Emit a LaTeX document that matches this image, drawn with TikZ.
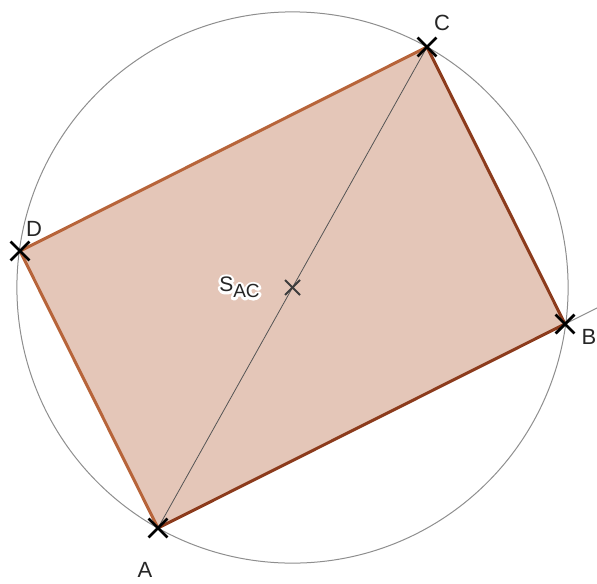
\documentclass[tikz,border=0pt]{standalone}
\usepackage{fontspec}
\setmainfont{Liberation Sans}
\usetikzlibrary{calc,positioning,shapes.misc}
\definecolor{rectfill}{HTML}{E4C6B8}
\definecolor{edgelight}{HTML}{B7643A}
\definecolor{edgedark}{HTML}{8C3B1C}
\definecolor{circgray}{HTML}{8E8E8E}
\definecolor{diaggray}{HTML}{555555}
\definecolor{markgray}{HTML}{3C3C3C}
% white outline behind a text
\newcommand\halotext[1]{\leavevmode
  \rlap{\special{pdf:code q 1 Tr 2.6 w 1 j 1 1 1 RG}#1\special{pdf:code Q}}#1}
\tikzset{
  vertex/.style={
    cross out,draw=black,line width=1.4pt,
    minimum size=8pt,inner sep=0pt
  },
  centre/.style={
    cross out,draw=markgray,line width=1pt,
    minimum size=6.5pt,inner sep=0pt
  },
  lbl/.style={font=\fontsize{11}{13}\selectfont,text=black!85,inner sep=0pt},
  side/.style={line width=1.5pt,line cap=round},
  thin line/.style={line width=.5pt}
}

\begin{document}
\begin{tikzpicture}[x=0.5pt,y=-0.5pt]
\useasboundingbox (0,0) rectangle (597,583);

% corners of the rectangle
\coordinate (A) at (158,528);
\coordinate (B) at (565,324);
\coordinate (C) at (427,47);
\coordinate (D) at (20,251);
\coordinate (S) at ($(A)!0.5!(C)$);
\coordinate (E) at ($(A)!1.085!(B)$);

% circumcircle
\draw[circgray,thin line] (S) circle[radius=275.6];

% rectangle
\fill[rectfill] (A)--(B)--(C)--(D)--cycle;
\draw[diaggray,line width=.4pt] (A)--(C);
\draw[circgray,thin line] (B)--(E);
\draw[side,edgelight] (A)--(D)--(C);
\draw[side,edgedark] (A)--(B)--(C);

% points
\node[vertex] (ptA) at (A) {};
\node[vertex] (ptB) at (B) {};
\node[vertex] (ptC) at (C) {};
\node[vertex] (ptD) at (D) {};
\node[centre] (ptS) at (S) {};

% labels
\node[lbl] (labA) at ($(A)+(-13,42)$) {A};
\node[lbl] (labB) at ($(B)+(24,13)$) {B};
\node[lbl] (labC) at ($(C)+(15,-24)$) {C};
\node[lbl] (labD) at ($(D)+(14,-22)$) {D};
\node[lbl,font=\fontsize{10.5}{12}\selectfont] (labS) at ($(S)+(-53,0)$)
  {\halotext{S\raisebox{-.55ex}{\fontsize{9.5}{11}\selectfont AC}}};
\end{tikzpicture}
\end{document}
